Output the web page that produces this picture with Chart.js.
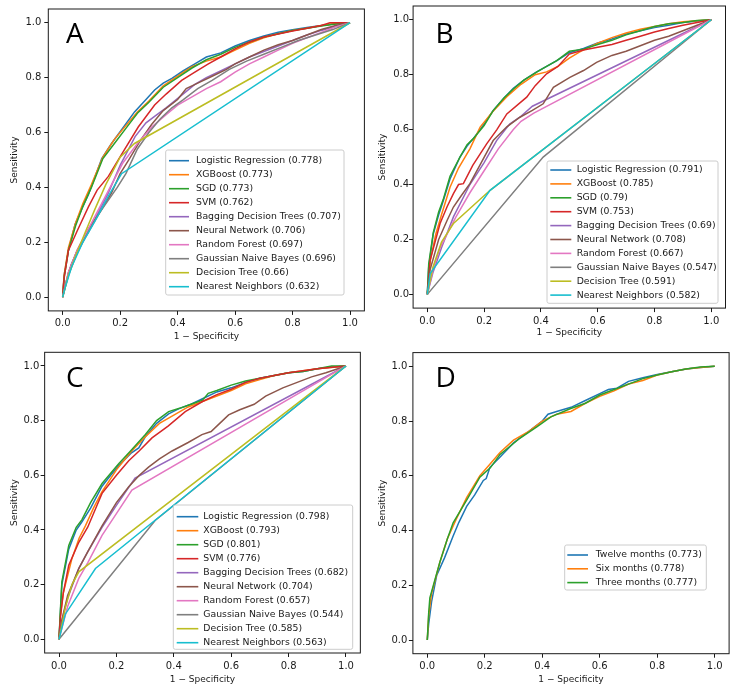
<!DOCTYPE html>
<html>
<head>
<meta charset="utf-8">
<script src="https://cdn.jsdelivr.net/npm/chart.js@4.4.1/dist/chart.umd.min.js"></script>
<style>
  html, body { margin: 0; padding: 0; background: #fff; }
  #wrap { position: relative; width: 737px; height: 689px; }
  canvas { position: absolute; }
</style>
</head>
<body>
<div id="wrap">
  <canvas id="cA" width="368" height="345" style="left:0px;top:0px"></canvas>
  <canvas id="cB" width="369" height="345" style="left:368px;top:0px"></canvas>
  <canvas id="cC" width="368" height="344" style="left:0px;top:345px"></canvas>
  <canvas id="cD" width="369" height="344" style="left:368px;top:345px"></canvas>
</div>
<script>
// ---- data ----
const tickValues = [0, 0.2, 0.4, 0.6, 0.8, 1.0];
const tickLabels = ["0.0", "0.2", "0.4", "0.6", "0.8", "1.0"];

const modelNames = [
  "Logistic Regression", "XGBoost", "SGD", "SVM", "Bagging Decision Trees",
  "Neural Network", "Random Forest", "Gaussian Naive Bayes", "Decision Tree", "Nearest Neighbors",
];
const aucA = ["0.778", "0.773", "0.773", "0.762", "0.707", "0.706", "0.697", "0.696", "0.66", "0.632"];
const aucB = ["0.791", "0.785", "0.79", "0.753", "0.69", "0.708", "0.667", "0.547", "0.591", "0.582"];
const aucC = ["0.798", "0.793", "0.801", "0.776", "0.682", "0.704", "0.657", "0.544", "0.585", "0.563"];
const horizonNames = ["Twelve months", "Six months", "Three months"];
const aucD = ["0.773", "0.778", "0.777"];

// ROC points [1 - specificity, sensitivity]
const A_lr = [[0,0],[0.005,0.08],[0.02,0.17],[0.043,0.265],[0.07,0.33],[0.09,0.375],[0.136,0.505],[0.17,0.56],[0.205,0.61],[0.25,0.675],[0.29,0.72],[0.32,0.755],[0.35,0.78],[0.38,0.797],[0.42,0.825],[0.46,0.85],[0.5,0.875],[0.55,0.89],[0.6,0.915],[0.65,0.935],[0.7,0.952],[0.75,0.965],[0.8,0.974],[0.85,0.983],[0.9,0.99],[0.95,0.996],[1,1]];
const A_xgb = [[0,0],[0.005,0.08],[0.02,0.18],[0.045,0.27],[0.07,0.34],[0.1,0.41],[0.14,0.51],[0.18,0.575],[0.22,0.625],[0.26,0.675],[0.3,0.715],[0.35,0.77],[0.4,0.805],[0.45,0.84],[0.5,0.86],[0.55,0.875],[0.6,0.9],[0.65,0.925],[0.7,0.945],[0.75,0.96],[0.8,0.972],[0.85,0.98],[0.9,0.99],[0.95,0.997],[1,1]];
const A_sgd = [[0,0],[0.005,0.07],[0.02,0.17],[0.045,0.26],[0.07,0.33],[0.1,0.4],[0.14,0.505],[0.18,0.56],[0.22,0.615],[0.26,0.67],[0.3,0.71],[0.35,0.765],[0.4,0.8],[0.45,0.835],[0.5,0.865],[0.55,0.885],[0.6,0.91],[0.65,0.93],[0.7,0.948],[0.75,0.96],[0.8,0.972],[0.85,0.98],[0.9,0.988],[0.95,0.995],[1,1]];
const A_svm = [[0,0],[0.005,0.07],[0.02,0.17],[0.05,0.24],[0.09,0.33],[0.12,0.39],[0.159,0.44],[0.205,0.52],[0.263,0.62],[0.32,0.7],[0.36,0.74],[0.414,0.79],[0.46,0.82],[0.507,0.85],[0.55,0.875],[0.6,0.905],[0.65,0.93],[0.7,0.948],[0.8,0.97],[0.9,0.99],[0.93,1],[1,1]];
const A_bag = [[0,0],[0.01,0.05],[0.03,0.12],[0.06,0.19],[0.089,0.235],[0.12,0.3],[0.159,0.38],[0.2,0.48],[0.252,0.585],[0.29,0.635],[0.321,0.66],[0.36,0.69],[0.39,0.715],[0.46,0.775],[0.5,0.8],[0.553,0.826],[0.6,0.85],[0.65,0.875],[0.7,0.895],[0.75,0.915],[0.8,0.935],[0.85,0.955],[0.9,0.972],[0.95,0.987],[1,1]];
const A_nn = [[0,0],[0.02,0.09],[0.05,0.17],[0.09,0.25],[0.13,0.31],[0.17,0.38],[0.2,0.45],[0.23,0.5],[0.27,0.57],[0.31,0.63],[0.35,0.68],[0.4,0.72],[0.43,0.76],[0.47,0.78],[0.52,0.805],[0.57,0.83],[0.6,0.85],[0.65,0.875],[0.7,0.9],[0.75,0.92],[0.8,0.935],[0.85,0.955],[0.9,0.975],[0.95,0.99],[1,1]];
const A_rf = [[0,0],[0.02,0.09],[0.05,0.17],[0.09,0.25],[0.13,0.33],[0.17,0.41],[0.21,0.49],[0.26,0.56],[0.31,0.62],[0.36,0.665],[0.4,0.7],[0.45,0.73],[0.5,0.76],[0.55,0.785],[0.6,0.82],[0.65,0.85],[0.7,0.875],[0.75,0.9],[0.8,0.925],[0.85,0.945],[0.9,0.965],[0.95,0.985],[1,1]];
const A_gnb = [[0,0],[0.02,0.08],[0.05,0.16],[0.09,0.24],[0.13,0.31],[0.17,0.37],[0.19,0.4],[0.22,0.45],[0.26,0.54],[0.3,0.6],[0.34,0.65],[0.38,0.69],[0.42,0.72],[0.47,0.76],[0.52,0.79],[0.58,0.83],[0.64,0.86],[0.7,0.885],[0.76,0.91],[0.82,0.935],[0.88,0.955],[0.94,0.975],[1,1]];
const A_dt = [[0,0],[0.02,0.08],[0.043,0.145],[0.08,0.24],[0.112,0.32],[0.15,0.41],[0.2,0.51],[0.25,0.56],[1,1]];
const A_knn = [[0,0],[0.01,0.04],[0.031,0.11],[0.07,0.2],[0.112,0.276],[0.16,0.37],[0.205,0.45],[1,1]];

const B_lr = [[0,0],[0.005,0.1],[0.021,0.22],[0.04,0.29],[0.056,0.34],[0.08,0.42],[0.115,0.5],[0.14,0.54],[0.162,0.567],[0.2,0.62],[0.232,0.67],[0.27,0.715],[0.303,0.75],[0.34,0.78],[0.385,0.81],[0.42,0.83],[0.456,0.851],[0.5,0.88],[0.55,0.895],[0.6,0.915],[0.65,0.93],[0.7,0.948],[0.75,0.96],[0.8,0.972],[0.85,0.98],[0.9,0.99],[0.95,0.995],[1,1]];
const B_xgb = [[0,0],[0.01,0.12],[0.03,0.22],[0.05,0.29],[0.08,0.39],[0.11,0.46],[0.15,0.53],[0.186,0.609],[0.23,0.665],[0.28,0.72],[0.33,0.765],[0.38,0.8],[0.42,0.81],[0.46,0.83],[0.5,0.86],[0.54,0.885],[0.6,0.915],[0.65,0.935],[0.7,0.952],[0.75,0.965],[0.8,0.975],[0.85,0.985],[0.9,0.993],[1,1]];
const B_sgd = [[0,0],[0.005,0.11],[0.021,0.225],[0.04,0.3],[0.056,0.345],[0.08,0.43],[0.115,0.5],[0.14,0.545],[0.162,0.567],[0.2,0.615],[0.232,0.669],[0.27,0.715],[0.303,0.748],[0.34,0.78],[0.385,0.809],[0.42,0.83],[0.456,0.851],[0.5,0.885],[0.55,0.893],[0.6,0.91],[0.65,0.925],[0.7,0.945],[0.75,0.96],[0.8,0.975],[0.85,0.985],[0.9,0.99],[0.95,0.997],[1,1]];
const B_svm = [[0,0],[0.01,0.125],[0.045,0.258],[0.07,0.32],[0.092,0.367],[0.11,0.4],[0.127,0.403],[0.16,0.47],[0.209,0.548],[0.245,0.6],[0.28,0.657],[0.35,0.718],[0.38,0.76],[0.42,0.803],[0.46,0.83],[0.5,0.875],[0.55,0.89],[0.6,0.9],[0.65,0.91],[0.7,0.925],[0.75,0.94],[0.8,0.955],[0.85,0.968],[0.9,0.98],[0.95,0.99],[1,1]];
const B_bag = [[0,0],[0.02,0.08],[0.05,0.17],[0.092,0.282],[0.15,0.4],[0.2,0.48],[0.244,0.56],[0.29,0.62],[0.326,0.645],[0.37,0.685],[1,1]];
const B_nn = [[0,0],[0.01,0.09],[0.04,0.2],[0.07,0.27],[0.092,0.318],[0.12,0.36],[0.15,0.403],[0.19,0.48],[0.232,0.56],[0.28,0.61],[0.326,0.645],[0.37,0.67],[0.408,0.694],[0.444,0.754],[0.502,0.79],[0.55,0.815],[0.596,0.845],[0.65,0.87],[0.7,0.885],[0.75,0.905],[0.8,0.925],[0.85,0.94],[0.9,0.96],[0.95,0.98],[1,1]];
const B_rf = [[0,0],[0.02,0.09],[0.045,0.17],[0.1,0.28],[0.15,0.37],[0.2,0.45],[0.25,0.53],[0.303,0.6],[0.33,0.63],[0.375,0.66],[1,1]];
const B_gnb = [[0,0],[0.408,0.5],[1,1]];
const B_dt = [[0,0],[0.02,0.1],[0.05,0.19],[0.092,0.258],[0.221,0.379],[1,1]];
const B_knn = [[0,0],[0.01,0.076],[0.221,0.379],[1,1]];

const C_lr = [[0,0],[0.005,0.1],[0.01,0.2],[0.034,0.33],[0.06,0.4],[0.08,0.43],[0.11,0.48],[0.15,0.56],[0.18,0.6],[0.208,0.635],[0.25,0.68],[0.278,0.7],[0.3,0.74],[0.34,0.79],[0.382,0.825],[0.42,0.845],[0.46,0.86],[0.5,0.88],[0.55,0.905],[0.6,0.92],[0.65,0.94],[0.7,0.955],[0.75,0.965],[0.8,0.975],[0.85,0.98],[0.9,0.99],[0.95,0.996],[1,1]];
const C_xgb = [[0,0],[0.005,0.09],[0.015,0.17],[0.045,0.295],[0.07,0.37],[0.092,0.415],[0.12,0.48],[0.15,0.54],[0.2,0.62],[0.25,0.685],[0.3,0.74],[0.35,0.79],[0.4,0.82],[0.45,0.85],[0.5,0.87],[0.55,0.89],[0.6,0.91],[0.65,0.935],[0.7,0.95],[0.75,0.965],[0.8,0.975],[0.9,0.99],[1,1]];
const C_sgd = [[0,0],[0.005,0.11],[0.01,0.21],[0.034,0.343],[0.06,0.41],[0.08,0.438],[0.11,0.5],[0.15,0.57],[0.208,0.642],[0.25,0.69],[0.301,0.749],[0.34,0.8],[0.382,0.833],[0.42,0.845],[0.46,0.86],[0.5,0.875],[0.52,0.9],[0.55,0.91],[0.6,0.93],[0.65,0.945],[0.7,0.955],[0.75,0.965],[0.8,0.975],[0.85,0.98],[0.9,0.99],[0.95,1],[1,1]];
const C_svm = [[0,0],[0.005,0.08],[0.015,0.17],[0.034,0.271],[0.069,0.355],[0.1,0.41],[0.15,0.534],[0.2,0.6],[0.243,0.653],[0.28,0.69],[0.324,0.737],[0.38,0.78],[0.44,0.833],[0.5,0.87],[0.55,0.895],[0.6,0.915],[0.65,0.94],[0.7,0.955],[0.75,0.965],[0.8,0.975],[0.9,0.99],[1,1]];
const C_bag = [[0,0],[0.01,0.07],[0.03,0.15],[0.069,0.26],[0.1,0.32],[0.15,0.41],[0.2,0.49],[0.265,0.59],[1,1]];
const C_nn = [[0,0],[0.01,0.07],[0.03,0.16],[0.069,0.259],[0.1,0.32],[0.15,0.415],[0.2,0.5],[0.243,0.558],[0.28,0.6],[0.312,0.63],[0.35,0.66],[0.394,0.689],[0.45,0.72],[0.498,0.749],[0.53,0.76],[0.56,0.79],[0.591,0.821],[0.63,0.84],[0.68,0.86],[0.72,0.89],[0.78,0.92],[0.83,0.94],[0.88,0.96],[0.93,0.975],[1,1]];
const C_rf = [[0,0],[0.03,0.12],[0.069,0.223],[0.1,0.28],[0.15,0.38],[0.2,0.46],[0.254,0.546],[1,1]];
const C_gnb = [[0,0],[0.335,0.435],[1,1]];
const C_dt = [[0,0],[0.022,0.116],[0.045,0.2],[0.069,0.247],[1,1]];
const C_knn = [[0,0],[0.022,0.092],[0.127,0.259],[1,1]];

const D_twelve = [[0,0],[0.005,0.06],[0.015,0.14],[0.033,0.237],[0.06,0.3],[0.09,0.38],[0.11,0.43],[0.137,0.488],[0.165,0.53],[0.195,0.583],[0.205,0.59],[0.218,0.631],[0.25,0.665],[0.3,0.72],[0.35,0.76],[0.4,0.8],[0.42,0.825],[0.45,0.835],[0.5,0.85],[0.55,0.875],[0.6,0.9],[0.63,0.915],[0.66,0.92],[0.7,0.945],[0.75,0.958],[0.8,0.97],[0.85,0.98],[0.9,0.99],[0.95,0.996],[1,1]];
const D_six = [[0,0],[0.005,0.09],[0.015,0.17],[0.044,0.285],[0.07,0.37],[0.1,0.44],[0.137,0.52],[0.183,0.6],[0.22,0.645],[0.253,0.685],[0.3,0.73],[0.35,0.76],[0.4,0.8],[0.45,0.825],[0.5,0.835],[0.55,0.865],[0.6,0.89],[0.65,0.91],[0.7,0.935],[0.75,0.948],[0.8,0.968],[0.85,0.98],[0.9,0.99],[0.95,0.996],[1,1]];
const D_three = [[0,0],[0.005,0.1],[0.009,0.154],[0.044,0.285],[0.07,0.37],[0.09,0.428],[0.137,0.511],[0.183,0.595],[0.22,0.63],[0.253,0.678],[0.323,0.738],[0.381,0.779],[0.43,0.815],[0.497,0.845],[0.55,0.865],[0.6,0.895],[0.65,0.915],[0.7,0.935],[0.75,0.955],[0.8,0.968],[0.85,0.98],[0.9,0.99],[0.95,0.997],[1,1]];

const tab10 = ["#1f77b4", "#ff7f0e", "#2ca02c", "#d62728", "#9467bd", "#8c564b", "#e377c2", "#7f7f7f", "#bcbd22", "#17becf"];
const inkColor = "#1a1a1a";
const fontFamily = '"DejaVu Sans", sans-serif';

// frame on all four sides, panel letter and the legend box
const panelDecor = {
  id: "panelDecor",
  afterDatasetsDraw(chart, args, o) {
    const ctx = chart.ctx;
    const a = chart.chartArea;
    ctx.save();
    ctx.strokeStyle = inkColor;
    ctx.lineWidth = 1;
    ctx.strokeRect(a.left, a.top, a.right - a.left, a.bottom - a.top);

    ctx.fillStyle = "#000";
    ctx.font = '28px "Open Sans", sans-serif';
    ctx.textBaseline = "alphabetic";
    ctx.textAlign = "left";
    ctx.fillText(o.letter, o.letterX, o.letterY);

    const L = o.legend;
    ctx.beginPath();
    ctx.roundRect(L.left, L.top, L.right - L.left, L.bottom - L.top, 2);
    ctx.fillStyle = "rgba(255,255,255,0.8)";
    ctx.fill();
    ctx.strokeStyle = "#cccccc";
    ctx.lineWidth = 1;
    ctx.stroke();

    ctx.font = "9.3px " + fontFamily;
    ctx.textBaseline = "middle";
    chart.data.datasets.forEach((ds, i) => {
      const y = L.row0 + i * L.rowGap;
      ctx.strokeStyle = ds.borderColor;
      ctx.lineWidth = 1.6;
      ctx.beginPath();
      ctx.moveTo(L.lineX0, y);
      ctx.lineTo(L.lineX1, y);
      ctx.stroke();
      ctx.fillStyle = inkColor;
      ctx.fillText(ds.label, L.textX, y);
    });
    ctx.restore();
  },
};

function makeAxis(lay, isX) {
  return {
    type: "linear",
    min: -0.05,
    max: 1.05,
    afterBuildTicks: (s) => { s.ticks = tickValues.map((v) => ({ value: v })); },
    afterFit: (s) => { if (isX) s.height = lay.xH; else s.width = lay.yW; },
    grid: { drawOnChartArea: false, tickLength: 4, color: inkColor, tickColor: inkColor },
    border: { display: false },
    ticks: {
      autoSkip: false,
      maxRotation: 0,
      minRotation: 0,
      padding: isX ? 3 : lay.yTickPad,
      color: inkColor,
      font: { family: fontFamily, size: 10 },
      callback: (v, i) => tickLabels[i],
    },
    title: {
      display: true,
      text: isX ? "1 − Specificity" : "Sensitivity",
      color: inkColor,
      font: { family: fontFamily, size: 9 },
      padding: isX ? { top: 0, bottom: lay.xTitlePad } : { top: lay.yTitlePad, bottom: 0 },
    },
  };
}

function drawPanel(canvasId, curves, names, aucs, colors, lay) {
  const n = curves.length;
  const datasets = curves.map((pts, i) => ({
    label: `${names[i]} (${aucs[i]})`,
    data: pts.map(([x, y]) => ({ x, y })),
    borderColor: colors[i],
    backgroundColor: colors[i],
    borderWidth: 1.5,
    pointRadius: 0,
    tension: 0,
    fill: false,
    order: n - i,
  }));
  const canvas = document.getElementById(canvasId);
  new Chart(canvas.getContext("2d"), {
    type: "line",
    data: { datasets },
    options: {
      responsive: false,
      animation: false,
      devicePixelRatio: 1,
      layout: { padding: { left: 0, top: lay.padTop, right: lay.padRight, bottom: 0 } },
      plugins: {
        legend: { display: false },
        tooltip: { enabled: false },
        panelDecor: lay.decor,
      },
      scales: { x: makeAxis(lay, true), y: makeAxis(lay, false) },
    },
    plugins: [panelDecor],
  });
}

drawPanel("cA",
  [A_lr, A_xgb, A_sgd, A_svm, A_bag, A_nn, A_rf, A_gnb, A_dt, A_knn],
  modelNames, aucA, tab10,
  { yW: 48.3, xH: 34.1, padTop: 4.4, padRight: 3.6, yTickPad: 3, yTitlePad: 9.6, xTitlePad: 2.6,
    decor: { letter: "A", letterX: 66, letterY: 43.3,
      legend: { left: 165.7, top: 150, right: 344, bottom: 295, row0: 160.7, rowGap: 14.0, lineX0: 169, lineX1: 189, textX: 196 } } });

drawPanel("cB",
  [B_lr, B_xgb, B_sgd, B_svm, B_bag, B_nn, B_rf, B_gnb, B_dt, B_knn],
  modelNames, aucB, tab10,
  { yW: 45.1, xH: 36.9, padTop: 5.2, padRight: 11.5, yTickPad: 0, yTitlePad: 9.6, xTitlePad: 6.6,
    decor: { letter: "B", letterX: 67.5, letterY: 42.7,
      legend: { left: 179, top: 161, right: 350, bottom: 303.3, row0: 170, rowGap: 13.9, lineX0: 182.3, lineX1: 203.3, textX: 208.7 } } });

drawPanel("cC",
  [C_lr, C_xgb, C_sgd, C_svm, C_bag, C_nn, C_rf, C_gnb, C_dt, C_knn],
  modelNames, aucC, tab10,
  { yW: 44.65, xH: 36, padTop: 1, padRight: 7.65, yTickPad: 1.3, yTitlePad: 9.6, xTitlePad: 4.3,
    decor: { letter: "C", letterX: 66, letterY: 41.7,
      legend: { left: 173.3, top: 160, right: 352.7, bottom: 304.3, row0: 171.7, rowGap: 14.0, lineX0: 176.7, lineX1: 198.3, textX: 203.3 } } });

drawPanel("cD",
  [D_twelve, D_six, D_three],
  horizonNames, aucD, tab10,
  { yW: 44.9, xH: 35.3, padTop: 1, padRight: 7.9, yTickPad: 1.6, yTitlePad: 9.6, xTitlePad: 3.6,
    decor: { letter: "D", letterX: 67.5, letterY: 41.7,
      legend: { left: 196.7, top: 200, right: 338.3, bottom: 245, row0: 210, rowGap: 13.8, lineX0: 199.3, lineX1: 220, textX: 227.7 } } });
</script>
</body>
</html>
